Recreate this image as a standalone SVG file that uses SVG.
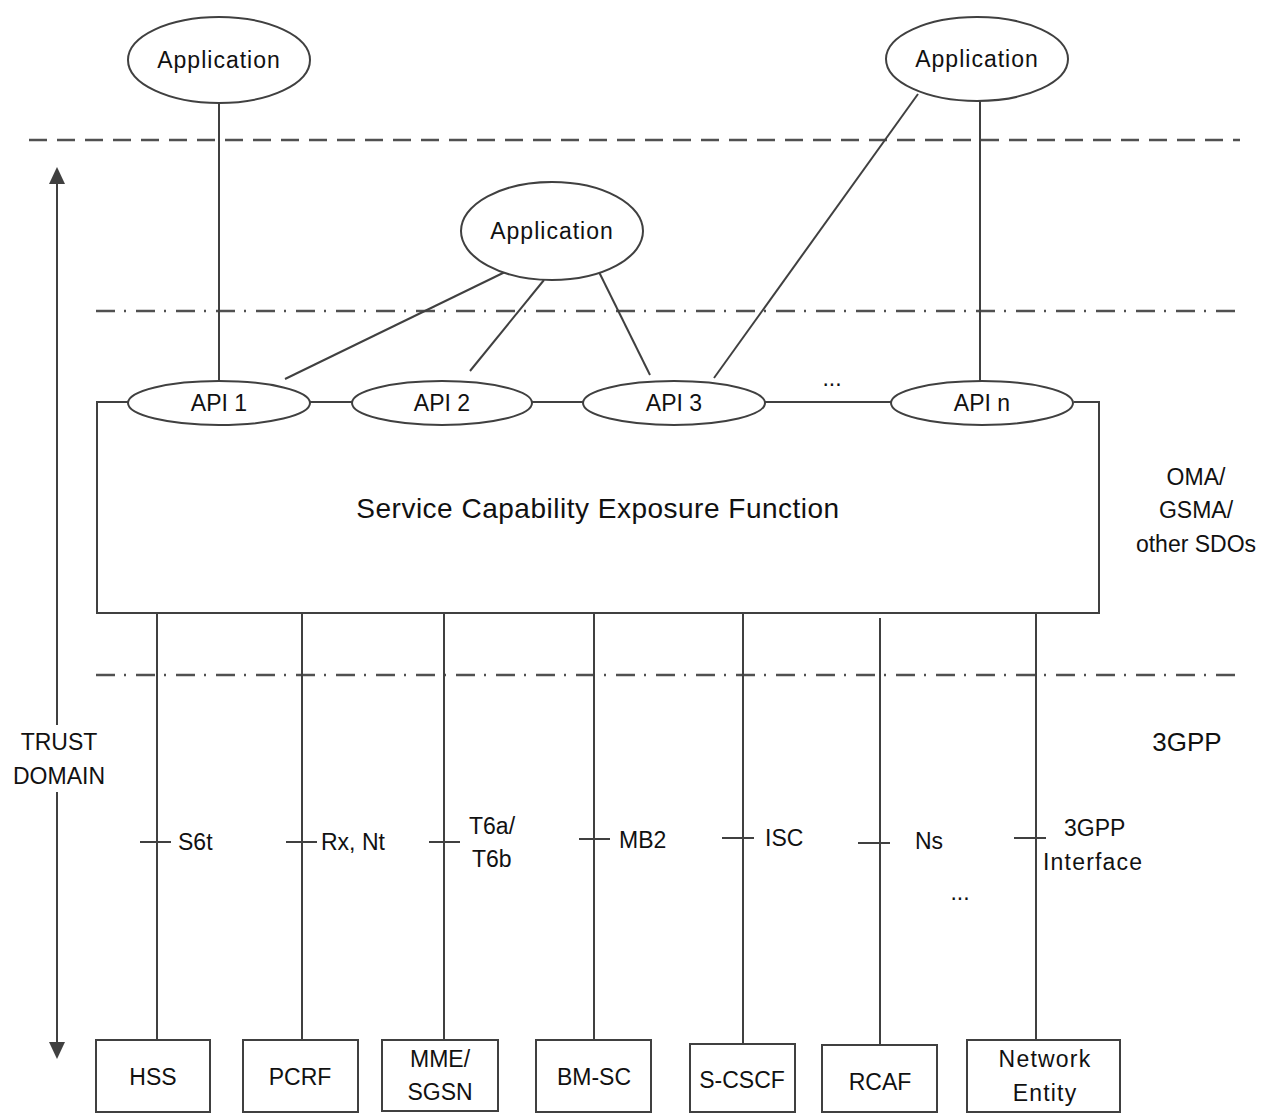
<svg xmlns="http://www.w3.org/2000/svg" width="1265" height="1113" viewBox="0 0 1265 1113">
<style>
.ln{stroke:#404040;stroke-width:2;fill:none}
.sh{stroke:#404040;stroke-width:2;fill:#fff}
.dash{stroke:#505050;stroke-width:2.5;fill:none;stroke-dasharray:18 10}
.dd{stroke:#505050;stroke-width:2.5;fill:none;stroke-dasharray:19 9 2 10}
.ah{fill:#404040}
text{font-family:"Liberation Sans",Arial,sans-serif;fill:#111;font-size:23px}
.c{text-anchor:middle}
.app{letter-spacing:1px}
.sp{letter-spacing:1.2px}
</style>
<rect width="1265" height="1113" fill="#fff"/>
<g id="boundaries">
<line class="dash" x1="29" y1="140" x2="1240" y2="140"/>
<line class="dd" x1="96" y1="311" x2="1240" y2="311"/>
<line class="dd" x1="96" y1="675" x2="1240" y2="675"/>
</g>
<g id="trust-domain">
<line class="ln" x1="57" y1="180" x2="57" y2="725"/>
<line class="ln" x1="57" y1="792" x2="57" y2="1046"/>
<path class="ah" d="M49,184 L57,167 L65,184 Z"/>
<path class="ah" d="M49,1042 L57,1059 L65,1042 Z"/>
<text class="c" x="59" y="750">TRUST</text>
<text class="c" x="59" y="784">DOMAIN</text>
</g>
<g id="connectors">
<line class="ln" x1="219" y1="103" x2="219" y2="381"/>
<line class="ln" x1="505" y1="272" x2="285" y2="379"/>
<line class="ln" x1="544" y1="280" x2="470" y2="371"/>
<line class="ln" x1="598" y1="270" x2="650" y2="375"/>
<line class="ln" x1="918" y1="94" x2="714" y2="378"/>
<line class="ln" x1="980" y1="101" x2="980" y2="381"/>
<line class="ln" x1="765" y1="402" x2="891" y2="402"/>
<line class="ln" x1="157" y1="613" x2="157" y2="1040"/>
<line class="ln" x1="302" y1="613" x2="302" y2="1040"/>
<line class="ln" x1="444" y1="613" x2="444" y2="1040"/>
<line class="ln" x1="594" y1="613" x2="594" y2="1040"/>
<line class="ln" x1="743" y1="613" x2="743" y2="1044"/>
<line class="ln" x1="880" y1="618" x2="880" y2="1045"/>
<line class="ln" x1="1036" y1="613" x2="1036" y2="1040"/>
<line class="ln" x1="140" y1="842" x2="171" y2="842"/>
<line class="ln" x1="286" y1="842" x2="317" y2="842"/>
<line class="ln" x1="429" y1="842" x2="460" y2="842"/>
<line class="ln" x1="579" y1="839" x2="610" y2="839"/>
<line class="ln" x1="722" y1="838" x2="754" y2="838"/>
<line class="ln" x1="858" y1="843" x2="890" y2="843"/>
<line class="ln" x1="1014" y1="838" x2="1046" y2="838"/>
<text x="178" y="850">S6t</text>
<text x="321" y="850">Rx, Nt</text>
<text x="469" y="834">T6a/</text>
<text x="472" y="867">T6b</text>
<text x="619" y="848">MB2</text>
<text x="765" y="846">ISC</text>
<text x="915" y="849">Ns</text>
<text x="1064" y="836">3GPP</text>
<text class="sp" x="1043" y="870">Interface</text>
<text class="c" x="960" y="900">...</text>
<text class="c" x="832" y="386">...</text>
</g>
<g id="scef">
<path class="ln" d="M128,402 L97,402 L97,613 L1099,613 L1099,402 L1074,402"/>
<line class="ln" x1="310" y1="402" x2="352" y2="402"/>
<line class="ln" x1="532" y1="402" x2="583" y2="402"/>
<text class="c" x="598" y="518" style="font-size:28px;letter-spacing:0.5px">Service Capability Exposure Function</text>
</g>
<g id="app1"><ellipse class="sh" cx="219" cy="60" rx="91" ry="43"/><text class="c app" x="219" y="68">Application</text></g>
<g id="app2"><ellipse class="sh" cx="552" cy="231" rx="91" ry="49"/><text class="c app" x="552" y="239">Application</text></g>
<g id="app3"><ellipse class="sh" cx="977" cy="59" rx="91" ry="42"/><text class="c app" x="977" y="67">Application</text></g>
<g id="api1"><ellipse class="sh" cx="219" cy="403" rx="91" ry="22"/><text class="c" x="219" y="411">API 1</text></g>
<g id="api2"><ellipse class="sh" cx="442" cy="403" rx="90" ry="22"/><text class="c" x="442" y="411">API 2</text></g>
<g id="api3"><ellipse class="sh" cx="674" cy="403" rx="91" ry="22"/><text class="c" x="674" y="411">API 3</text></g>
<g id="apin"><ellipse class="sh" cx="982" cy="403" rx="91" ry="22"/><text class="c" x="982" y="411">API n</text></g>
<g id="hss"><rect class="sh" x="96" y="1040" width="114" height="72"/><text class="c" x="153" y="1085">HSS</text></g>
<g id="pcrf"><rect class="sh" x="243" y="1040" width="115" height="72"/><text class="c" x="300" y="1085">PCRF</text></g>
<g id="mme"><rect class="sh" x="382" y="1040" width="116" height="71"/><text class="c" x="440" y="1067">MME/</text><text class="c" x="440" y="1100">SGSN</text></g>
<g id="bmsc"><rect class="sh" x="536" y="1040" width="115" height="72"/><text class="c" x="594" y="1085">BM-SC</text></g>
<g id="scscf"><rect class="sh" x="690" y="1044" width="105" height="68"/><text class="c" x="742" y="1088">S-CSCF</text></g>
<g id="rcaf"><rect class="sh" x="822" y="1045" width="115" height="67"/><text class="c" x="880" y="1090">RCAF</text></g>
<g id="ne"><rect class="sh" x="967" y="1040" width="153" height="72"/><text class="c sp" x="1045" y="1067">Network</text><text class="c sp" x="1045" y="1101">Entity</text></g>
<g id="labels">
<text class="c" x="1187" y="751" style="font-size:26px">3GPP</text>
<text class="c" x="1196" y="485">OMA/</text>
<text class="c" x="1196" y="518">GSMA/</text>
<text class="c" x="1196" y="552">other SDOs</text>
</g>
</svg>
